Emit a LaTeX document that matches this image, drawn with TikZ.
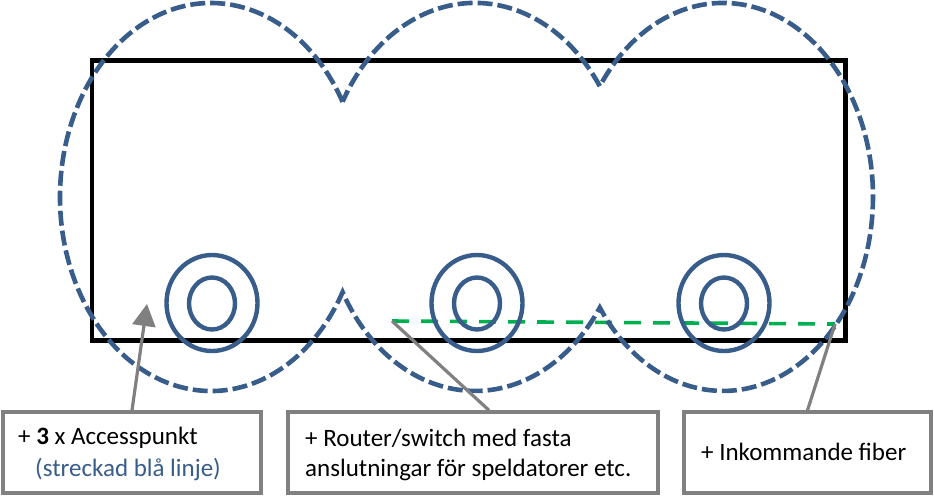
\documentclass[tikz,border=0pt]{standalone}
\usepackage{fontspec}
\setmainfont{Carlito}
\usetikzlibrary{arrows.meta}
\definecolor{apblue}{RGB}{56,93,138}
\definecolor{fibgreen}{RGB}{0,176,80}
\definecolor{callgray}{RGB}{128,128,128}
\begin{document}
\begin{tikzpicture}[x=1pt,y=-1pt,
  apline/.style={draw=apblue, line width=4.6pt, dash pattern=on 15pt off 5pt},
  ring/.style={draw=apblue, line width=4.4pt},
  wall/.style={draw=black, line width=4.6pt},
  fiber/.style={draw=fibgreen, line width=3.6pt, dash pattern=on 17pt off 12pt},
  callout/.style={draw=callgray, line width=3.4pt, fill=white, inner sep=0pt},
  pointer/.style={draw=callgray, line width=3.2pt},
  lbl/.style={anchor=base west, inner sep=0pt, font=\fontsize{25}{30}\selectfont}
]
\useasboundingbox (0,0) rectangle (934,496);
% hall
\draw[wall] (92,60.5) rectangle (845.5,340.5);
% fibre
\coordinate (g1) at (392,321);
\coordinate (g2) at (835,324);
\draw[fiber] (g1) -- (g2);
% access points
\foreach \cx in {212,477,724} {
  \draw[ring] (\cx,303) ellipse [x radius=45.5, y radius=48];
  \draw[ring] (\cx,303.5) ellipse [x radius=23, y radius=26];
}
% coverage outline
\draw[apline] (211,197) ++(-29.37:151 and 194)
  arc[start angle=-29.37, end angle=-330.63, x radius=151, y radius=194]
  arc[start angle=150.6, end angle=34.8, x radius=152, y radius=194]
  arc[start angle=145.2, end angle=-145.2, x radius=150, y radius=194]
  arc[start angle=-34.8, end angle=-150.6, x radius=152, y radius=194]
  -- cycle;
% callout boxes
\node[callout, minimum width=258pt, minimum height=81pt] (b1) at (132,452.5) {};
\node[callout, minimum width=370pt, minimum height=81pt] (b2) at (473,452.5) {};
\node[callout, minimum width=247pt, minimum height=81pt] (b3) at (807.5,452.5) {};
% pointers
\coordinate (ap1) at (147,304);
\draw[pointer, -{Triangle[length=22pt,width=23pt]}] (b1.north) -- (ap1);
\draw[pointer] ([xshift=16pt]b2.north) -- (g1);
\draw[pointer] (b3.north) -- (g2);
% texts
\node[lbl] (t1) at (18,444) {+ \textbf{3} x Accesspunkt};
\node[lbl, text=apblue] (t2) at (35,476) {(streckad blå linje)};
\node[lbl] (t3) at (305,446) {+ Router/switch med fasta};
\node[lbl] (t4) at (305,476) {anslutningar för speldatorer etc.};
\node[lbl] (t5) at (701,460) {+ Inkommande fiber};
\end{tikzpicture}
\end{document}
